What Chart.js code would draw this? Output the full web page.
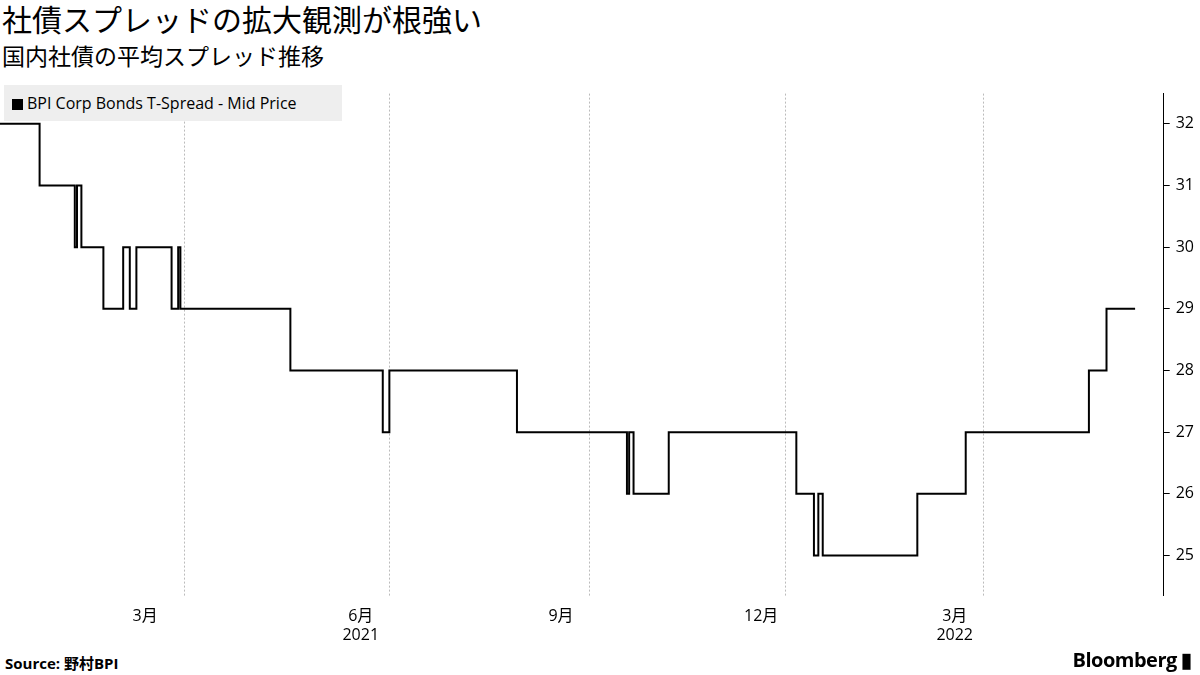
<!DOCTYPE html>
<html><head><meta charset="utf-8">
<script src="https://cdn.jsdelivr.net/npm/chart.js@4"></script>
<style>
body{margin:0;width:1200px;height:675px;background:#fff;font-family:"Noto Sans CJK JP","Noto Sans",sans-serif;position:relative;overflow:hidden}
#t1{position:absolute;left:2px;top:-4px;font-size:30px;color:#000}
#t2{position:absolute;left:2px;top:38px;font-size:23px;color:#000}
#leg{position:absolute;left:4px;top:85px;width:338px;height:36px;background:#eee;font-family:"Open Sans",sans-serif;font-size:16px;line-height:36px;color:#000}
#leg span{display:inline-block;width:11px;height:11px;background:#000;margin:0 4px 0 8px;vertical-align:-1px}
#src{position:absolute;left:5px;top:652px;font-size:15px;font-weight:bold;font-family:"Open Sans","Noto Sans CJK JP",sans-serif}
#bb{position:absolute;right:8px;top:646px;font-size:20px;font-weight:bold;font-family:"Open Sans",sans-serif;letter-spacing:-0.5px}
#wrap{position:absolute;left:0;top:78px;width:1200px;height:570px}
</style></head><body>
<div id="t1">社債スプレッドの拡大観測が根強い</div>
<div id="t2">国内社債の平均スプレッド推移</div>
<div id="wrap"><canvas id="c"></canvas></div>
<div id="leg"><span></span>BPI Corp Bonds T-Spread - Mid Price</div>
<div id="src">Source: 野村BPI</div>
<div id="bb">Bloomberg ▮</div>
<script>
// 2021年1月1日からの日数
const dias = [-7, 11, 27, 28, 30, 40, 49, 52, 55, 71, 74, 75, 125, 167, 170, 228, 278, 279, 281, 297, 355, 363, 365, 367, 410, 432, 488, 496, 509];
const spread = [32, 31, 30, 31, 30, 29, 30, 29, 30, 29, 30, 29, 28, 27, 28, 27, 26, 27, 26, 27, 26, 25, 26, 25, 26, 27, 28, 29, 29];
const mesDias = [59, 157, 248, 339, 427];
const mesEtiquetas = [["3月"], ["6月", "2021"], ["9月"], ["12月"], ["3月", "2022"]];
const rejillaDias = [77, 170, 261, 350, 440];
const yTicks = [25, 26, 27, 28, 29, 30, 31, 32];

const puntos = dias.map((d, i) => ({x: d, y: spread[i]}));

new Chart(document.getElementById("c"), {
  type: "line",
  data: {datasets: [{data: puntos, borderColor: "#000", borderWidth: 2, pointRadius: 0, stepped: "before", fill: false}]},
  options: {
    responsive: true, maintainAspectRatio: false, animation: false,
    plugins: {legend: {display: false}, tooltip: {enabled: false}},
    scales: {
      x: {
        type: "linear", min: -7, max: 522,
        afterBuildTicks: a => { a.ticks = mesDias.map(v => ({value: v})); },
        ticks: {autoSkip: false, maxRotation: 0, color: "#000", font: {size: 16, family: "Open Sans, Noto Sans CJK JP"},
          callback: (v) => { const i = mesDias.indexOf(v); return i >= 0 ? mesEtiquetas[i] : ""; }},
        grid: {display: false}, border: {display: false}
      },
      xg: {
        type: "linear", position: "bottom", min: -7, max: 522, display: true,
        afterBuildTicks: a => { a.ticks = rejillaDias.map(v => ({value: v})); },
        ticks: {display: false},
        grid: {color: "#bbb", lineWidth: 1, drawTicks: false},
        border: {display: false, dash: [2, 2]}
      },
      y: {
        position: "right", min: 24.35, max: 32.49,
        afterBuildTicks: a => { a.ticks = yTicks.map(v => ({value: v})); },
        ticks: {color: "#000", font: {size: 16, family: "Open Sans"}, padding: 6},
        grid: {drawOnChartArea: false, drawTicks: true, tickLength: 6, color: "#000"},
        border: {display: true, color: "#000"}
      }
    }
  }
});
</script>
</body></html>
